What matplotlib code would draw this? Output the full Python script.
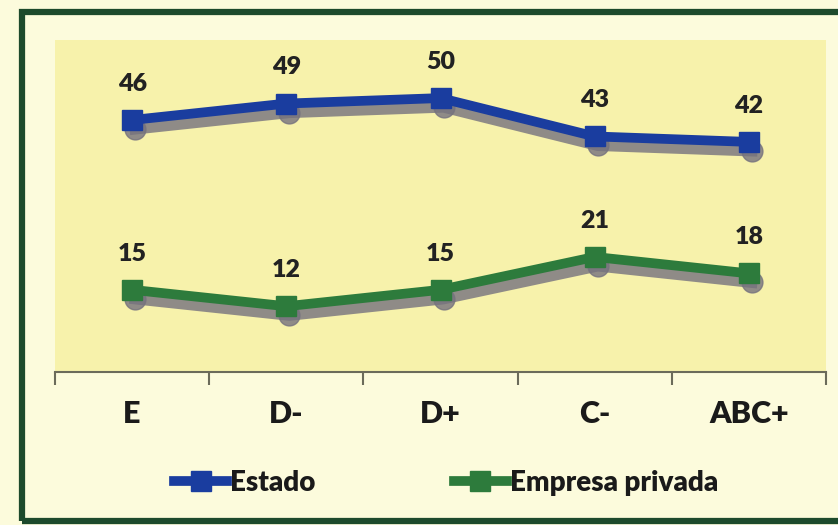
import matplotlib.pyplot as plt
import matplotlib.transforms as mtransforms
from matplotlib.patches import Rectangle
from matplotlib.lines import Line2D

categories = ['E', 'D-', 'D+', 'C-', 'ABC+']
estado = [46, 49, 50, 43, 42]
empresa = [15, 12, 15, 21, 18]

plt.rcParams['font.family'] = ['Lato', 'DejaVu Sans']

fig = plt.figure(figsize=(8.38, 5.25), dpi=100)
fig.patch.set_facecolor('#fcfbdc')

# outer dark green frame
fig.patches.append(Rectangle((22 / 838, 4 / 525), 1.0, 509 / 525, transform=fig.transFigure,
                             fill=False, edgecolor='#1d4a2c', linewidth=4.5, zorder=0))

ax = fig.add_axes([55 / 838, 1 - 372 / 525, 771 / 838, 332 / 525])
ax.set_facecolor('#f7f2ab')

x = list(range(1, len(categories) + 1))

# gray drop shadow below each series
shift = ax.transData + mtransforms.ScaledTranslation(0.03, -0.09, fig.dpi_scale_trans)
for vals in (estado, empresa):
    ax.plot(x, vals, color='#75727e', lw=8, marker='o', ms=15, alpha=0.8,
            transform=shift, zorder=2)

ax.plot(x, estado, color='#1a3d9f', lw=7, marker='s', ms=14, label='Estado',
        solid_joinstyle='miter', zorder=3)
ax.plot(x, empresa, color='#2d7b3c', lw=7, marker='s', ms=14, label='Empresa privada',
        solid_joinstyle='miter', zorder=3)

for xi, v in zip(x, estado):
    ax.annotate(str(v), (xi, v), xytext=(0, 26), textcoords='offset points',
                ha='center', va='center', fontsize=18, fontweight='heavy', color='#222222')
for xi, v in zip(x, empresa):
    ax.annotate(str(v), (xi, v), xytext=(0, 26), textcoords='offset points',
                ha='center', va='center', fontsize=18, fontweight='heavy', color='#222222')

ax.set_xlim(0.5, len(categories) + 0.5)
ax.set_ylim(0, 60.6)

for s in ['top', 'right', 'left']:
    ax.spines[s].set_visible(False)
ax.spines['bottom'].set_color('#6b6b5a')
ax.spines['bottom'].set_linewidth(1.5)
ax.set_yticks([])

ax.set_xticks([i + 0.5 for i in range(len(categories) + 1)])
ax.set_xticklabels([])
ax.tick_params(axis='x', which='major', length=9, width=1.5, color='#6b6b5a', direction='out')
ax.set_xticks(x, minor=True)
ax.set_xticklabels(categories, minor=True, fontsize=22, fontweight='heavy', color='#1a1a1a')
ax.tick_params(axis='x', which='minor', length=0, pad=20)

handles = [Line2D([], [], color='#1a3d9f', lw=7, marker='s', ms=14),
           Line2D([], [], color='#2d7b3c', lw=7, marker='s', ms=14)]
leg = fig.legend(handles, ['Estado', 'Empresa privada'], loc='center',
                 bbox_to_anchor=(446 / 838, 1 - 483 / 525), ncol=2, frameon=False,
                 handlelength=1.9, handletextpad=0.1, columnspacing=5.0,
                 prop={'size': 20, 'weight': 'heavy'})
for t in leg.get_texts():
    t.set_color('#1a1a1a')

fig.savefig('out.png', dpi=100, facecolor=fig.get_facecolor())
